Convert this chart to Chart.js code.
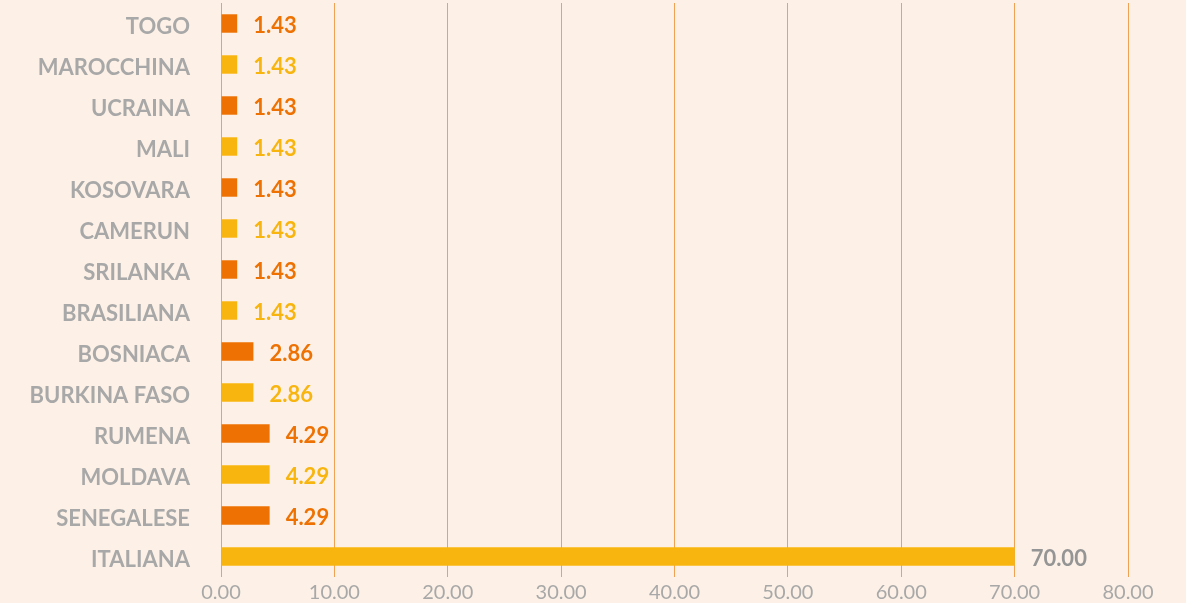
<!DOCTYPE html>
<html>
<head>
<meta charset="utf-8">
<script src="https://cdn.jsdelivr.net/npm/chart.js@4"></script>
<style>
  html, body { margin: 0; padding: 0; background: #fdf1e7; }
  #wrap { width: 1186px; height: 603px; position: relative; }
</style>
</head>
<body>
<div id="wrap"><canvas id="c" width="1186" height="603"></canvas></div>
<script>
const categories = ["TOGO", "MAROCCHINA", "UCRAINA", "MALI", "KOSOVARA", "CAMERUN", "SRILANKA", "BRASILIANA", "BOSNIACA", "BURKINA FASO", "RUMENA", "MOLDAVA", "SENEGALESE", "ITALIANA"];
const values = [1.43, 1.43, 1.43, 1.43, 1.43, 1.43, 1.43, 1.43, 2.86, 2.86, 4.29, 4.29, 4.29, 70.00];
const xTicks = [0, 10, 20, 30, 40, 50, 60, 70, 80];

const DARK = "#ee7203";
const YELLOW = "#f8b50f";
const GRAY_LABEL = "#959595";
const barColors = categories.map((_, i) => (i % 2 === 0 ? DARK : YELLOW));
const labelColors = categories.map((_, i) => (i === categories.length - 1 ? GRAY_LABEL : barColors[i]));

const FONT = "Lato, 'Open Sans', sans-serif";

const valueLabels = {
  id: "valueLabels",
  afterDatasetsDraw(chart) {
    const ctx = chart.ctx;
    const meta = chart.getDatasetMeta(0);
    const xScale = chart.scales.x;
    ctx.save();
    ctx.font = "bold 22px " + FONT;
    ctx.textAlign = "left";
    ctx.textBaseline = "middle";
    meta.data.forEach((bar, i) => {
      const v = values[i];
      const x = xScale.getPixelForValue(v) + 16;
      ctx.fillStyle = labelColors[i];
      ctx.fillText(v.toFixed(2), x, bar.y + 2);
    });
    ctx.restore();
  }
};

new Chart(document.getElementById("c"), {
  type: "bar",
  data: {
    labels: categories,
    datasets: [{
      data: values,
      backgroundColor: barColors,
      borderWidth: 0,
      barPercentage: 0.45,
      categoryPercentage: 1.0
    }]
  },
  options: {
    indexAxis: "y",
    responsive: false,
    animation: false,
    devicePixelRatio: 1,
    layout: { padding: { top: 3, right: 58, bottom: 0, left: 0 } },
    plugins: { legend: { display: false }, tooltip: { enabled: false } },
    scales: {
      x: {
        min: 0,
        max: 80,
        afterBuildTicks(scale) { scale.ticks = xTicks.map(v => ({ value: v })); },
        afterFit(scale) { scale.height = 26; },
        grid: { color: "#f0a154", lineWidth: 1, drawTicks: false },
        border: { display: false },
        ticks: {
          color: "#a8a8a8",
          font: { family: FONT, size: 20 },
          padding: 4,
          maxRotation: 0,
          minRotation: 0,
          autoSkip: false,
          callback: v => Number(v).toFixed(2)
        }
      },
      y: {
        grid: { display: false, drawTicks: false },
        border: { display: false },
        afterFit(scale) {
          scale.width = 221;
          scale.paddingTop = 0;
          scale.paddingBottom = 0;
        },
        ticks: {
          color: "#a8a8a8",
          font: { family: FONT, size: 22, weight: "bold" },
          padding: 31,
          labelOffset: 3,
          autoSkip: false
        }
      }
    }
  },
  plugins: [valueLabels]
});
</script>
</body>
</html>
